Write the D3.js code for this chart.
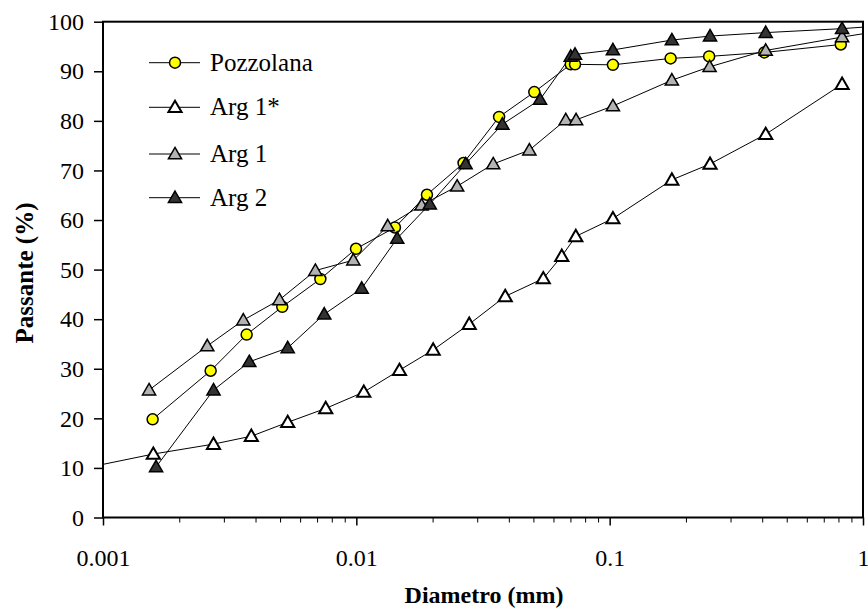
<!DOCTYPE html>
<html lang="it">
<head>
<meta charset="UTF-8">
<title>Curve granulometriche</title>
<style>
  body { margin: 0; background: #fff; }
  svg text { font-family: "Liberation Serif", "Times New Roman", serif; fill: #000; }
</style>
</head>
<body>
<div id="chart"></div>
<script src="https://d3js.org/d3.v7.min.js"></script>
<script>
// dati (diametro in mm, passante in %)
const pozzolanaX = [0.00157, 0.00266, 0.00369, 0.0051, 0.00721, 0.00997, 0.0142, 0.019, 0.0265, 0.0366, 0.0504, 0.0702, 0.073, 0.103, 0.174, 0.247, 0.408, 0.817];
const pozzolanaY = [19.8, 29.6, 36.9, 42.5, 48.1, 54.2, 58.5, 65.1, 71.5, 80.8, 85.8, 91.4, 91.4, 91.3, 92.6, 93.0, 93.8, 95.4];

const arg1sX = [0.0007, 0.00158, 0.00273, 0.00385, 0.00536, 0.00757, 0.0107, 0.0148, 0.0201, 0.0279, 0.0387, 0.0547, 0.0647, 0.0735, 0.103, 0.176, 0.249, 0.413, 0.827];
const arg1sY = [9.1, 12.8, 14.8, 16.4, 19.2, 22.0, 25.3, 29.7, 33.8, 39.0, 44.6, 48.2, 52.7, 56.7, 60.3, 68.1, 71.3, 77.3, 87.4];

const arg1X = [0.00152, 0.00258, 0.00358, 0.00497, 0.00689, 0.00973, 0.0133, 0.0181, 0.025, 0.0347, 0.0482, 0.0671, 0.0737, 0.103, 0.176, 0.248, 0.413, 0.827, 2];
const arg1Y = [25.7, 34.6, 39.8, 43.9, 49.8, 51.9, 58.8, 63.0, 66.8, 71.3, 74.1, 80.2, 80.2, 83.0, 88.2, 90.9, 94.2, 96.9, 100];

const arg2X = [0.00162, 0.00273, 0.00378, 0.00536, 0.00747, 0.0105, 0.0145, 0.0195, 0.027, 0.0377, 0.0531, 0.0702, 0.073, 0.103, 0.176, 0.249, 0.413, 0.827, 2];
const arg2Y = [10.2, 25.7, 31.4, 34.2, 41.0, 46.2, 56.3, 63.2, 71.3, 79.3, 84.3, 93.0, 93.4, 94.3, 96.3, 97.1, 97.8, 98.6, 100];

const seriesNames = ["Pozzolana", "Arg 1*", "Arg 1", "Arg 2"];
const xTickLabels = [0.001, 0.01, 0.1, 1];
const yTickLabels = [0, 10, 20, 30, 40, 50, 60, 70, 80, 90, 100];

const W = 868, H = 613;
const plotL = 103, plotR = 863, plotT = 21.7, plotB = 517.5;

const svg = d3.select('#chart').append('svg')
  .attr('width', W)
  .attr('height', H);

const x = d3.scaleLog().domain([0.001, 1]).range([plotL, plotR]);
const y = d3.scaleLinear().domain([0, 100]).range([plotB, plotT]);

// serie con stile marker
const series = [
  { name: seriesNames[0], xs: pozzolanaX, ys: pozzolanaY, shape: 'circle', fill: '#ffff00', sw: 1.5 },
  { name: seriesNames[1], xs: arg1sX, ys: arg1sY, shape: 'triangle', fill: '#ffffff', sw: 2 },
  { name: seriesNames[2], xs: arg1X, ys: arg1Y, shape: 'triangle', fill: '#b3b3b3', sw: 1.5 },
  { name: seriesNames[3], xs: arg2X, ys: arg2Y, shape: 'triangle', fill: '#333333', sw: 1.5 }
];

svg.append('clipPath').attr('id', 'plot-clip')
  .append('rect')
  .attr('x', plotL).attr('y', plotT)
  .attr('width', plotR - plotL).attr('height', plotB - plotT);

// assi
const minorTicks = [];
[0.001, 0.01, 0.1].forEach(d => {
  for (let k = 2; k <= 9; k++) minorTicks.push(d * k);
});

svg.append('g')
  .attr('transform', `translate(0,${plotB})`)
  .call(d3.axisBottom(x).tickValues(minorTicks).tickSize(5).tickFormat(''))
  .call(g => g.select('.domain').remove())
  .call(g => g.selectAll('line').attr('stroke', '#000').attr('stroke-width', 1));

svg.append('g')
  .attr('transform', `translate(0,${plotB})`)
  .call(d3.axisBottom(x).tickValues(xTickLabels).tickSize(8).tickPadding(23)
    .tickFormat(d => String(d)))
  .call(g => g.select('.domain').remove())
  .call(g => g.selectAll('line').attr('stroke', '#000').attr('stroke-width', 1.5))
  .call(g => g.selectAll('text').attr('font-size', 24)
    .style('font-family', '"Liberation Serif", "Times New Roman", serif'));

svg.append('g')
  .attr('transform', `translate(${plotL},0)`)
  .call(d3.axisLeft(y).tickValues(yTickLabels).tickSize(9).tickPadding(10))
  .call(g => g.select('.domain').remove())
  .call(g => g.selectAll('line').attr('stroke', '#000').attr('stroke-width', 1.5))
  .call(g => g.selectAll('text').attr('font-size', 24)
    .style('font-family', '"Liberation Serif", "Times New Roman", serif'));

// cornice
svg.append('rect')
  .attr('x', plotL).attr('y', plotT)
  .attr('width', plotR - plotL).attr('height', plotB - plotT)
  .attr('fill', 'none')
  .attr('stroke', '#000')
  .attr('stroke-width', 2);

const line = d3.line().x(d => x(d[0])).y(d => y(d[1]));

const tri = d3.symbol().type(d3.symbolTriangle).size(75);

function drawMarker(g, s, cx, cy) {
  if (s.shape === 'circle') {
    g.append('circle')
      .attr('cx', cx).attr('cy', cy).attr('r', 5.5)
      .attr('fill', s.fill).attr('stroke', '#000').attr('stroke-width', s.sw);
  } else {
    g.append('path')
      .attr('d', tri())
      .attr('transform', `translate(${cx},${cy + 1})`)
      .attr('fill', s.fill).attr('stroke', '#000').attr('stroke-width', s.sw)
      .attr('stroke-linejoin', 'miter');
  }
}

const plot = svg.append('g').attr('clip-path', 'url(#plot-clip)');

series.forEach(s => {
  const pts = s.xs.map((v, i) => [v, s.ys[i]]);
  plot.append('path')
    .attr('d', line(pts))
    .attr('fill', 'none')
    .attr('stroke', '#000')
    .attr('stroke-width', 1);
});

// marker sopra tutte le linee
series.forEach(s => {
  const g = plot.append('g');
  s.xs.forEach((v, i) => drawMarker(g, s, x(v), y(s.ys[i])));
});

// legenda
const legendY = [62.7, 107.3, 154, 197.7];
series.forEach((s, i) => {
  const g = svg.append('g');
  g.append('line')
    .attr('x1', 149).attr('x2', 200)
    .attr('y1', legendY[i]).attr('y2', legendY[i])
    .attr('stroke', '#000').attr('stroke-width', 1);
  drawMarker(g, s, 175, legendY[i]);
  g.append('text')
    .attr('x', 210).attr('y', legendY[i] + 8)
    .attr('font-size', 25)
    .text(s.name);
});

// titoli assi
svg.append('text')
  .attr('x', 484).attr('y', 603)
  .attr('text-anchor', 'middle')
  .attr('font-size', 24)
  .attr('font-weight', 'bold')
  .text('Diametro (mm)');

svg.append('text')
  .attr('transform', 'translate(33,273) rotate(-90)')
  .attr('text-anchor', 'middle')
  .attr('font-size', 25)
  .attr('font-weight', 'bold')
  .text('Passante (%)');
</script>
</body>
</html>
